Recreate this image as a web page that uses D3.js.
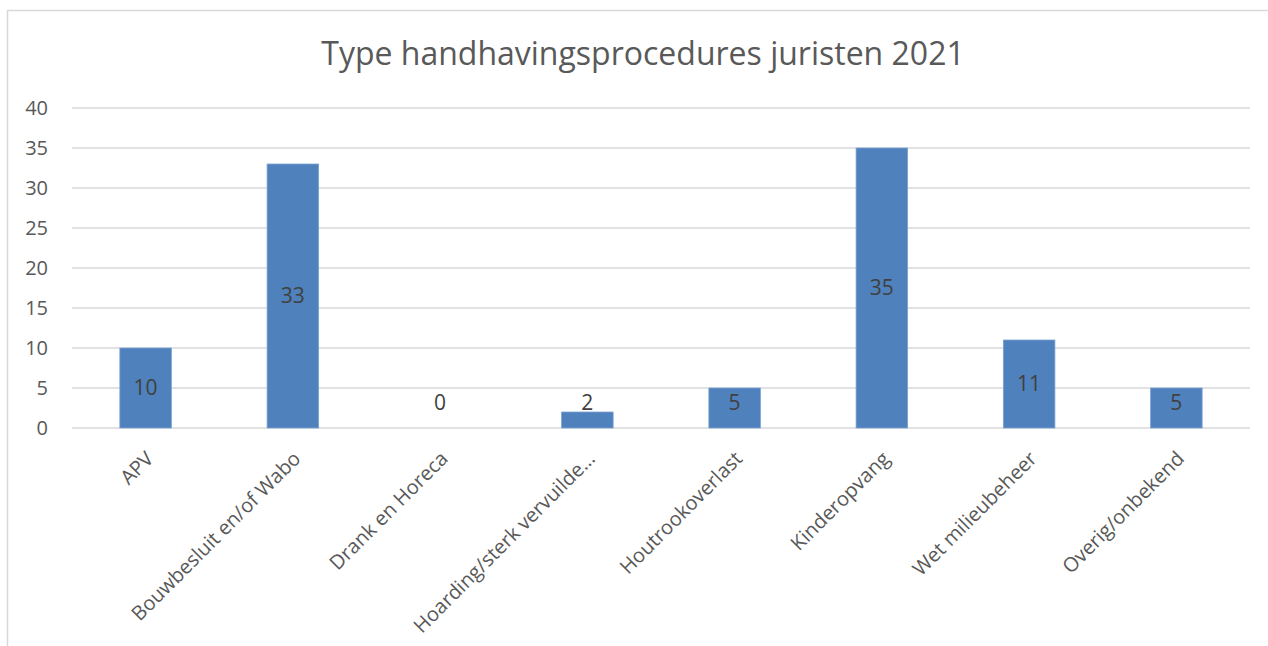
<!DOCTYPE html>
<html>
<head>
<meta charset="utf-8">
<script src="https://d3js.org/d3.v7.min.js"></script>
<style>
  body { margin: 0; background: #fff; }
  svg text { font-family: "Open Sans", sans-serif; }
</style>
</head>
<body>
<svg width="1268" height="646"></svg>

<script>
  // data
  const categories = ['APV', 'Bouwbesluit en/of Wabo', 'Drank en Horeca', 'Hoarding/sterk vervuilde…',
    'Houtrookoverlast', 'Kinderopvang', 'Wet milieubeheer', 'Overig/onbekend'];
  const values = [10, 33, 0, 2, 5, 35, 11, 5];
  const yTicks = [0, 5, 10, 15, 20, 25, 30, 35, 40];
  const title = 'Type handhavingsprocedures juristen 2021';

  const svg = d3.select('svg');
  const width = +svg.attr('width');
  const height = +svg.attr('height');

  const data = categories.map((c, i) => ({cat: c, val: values[i]}));

  // chart frame (cut off at right and bottom in the original)
  svg.append('rect')
    .attr('x', 7.5).attr('y', 10.5)
    .attr('width', width + 10).attr('height', height + 10)
    .attr('fill', '#fff')
    .attr('stroke', '#d9d9d9')
    .attr('stroke-width', 1.5);

  svg.append('text')
    .attr('x', 643).attr('y', 65)
    .attr('text-anchor', 'middle')
    .attr('font-size', 32)
    .attr('fill', '#595959')
    .text(title);

  const margin = {top: 108, left: 72, right: 18, bottom: 218};

  const x = d3.scaleBand()
    .domain(categories)
    .range([margin.left, width - margin.right])
    .paddingInner(0.65)
    .paddingOuter(0.325);

  const y = d3.scaleLinear()
    .domain([0, 40])
    .range([height - margin.bottom, margin.top]);

  // gridlines
  svg.append('g')
    .selectAll('line').data(yTicks)
    .join('line')
      .attr('x1', margin.left).attr('x2', width - margin.right)
      .attr('y1', d => y(d)).attr('y2', d => y(d))
      .attr('stroke', '#d9d9d9')
      .attr('stroke-width', 1.5);

  // y axis labels
  const yAxis = d3.axisLeft(y).tickValues(yTicks).tickSize(0).tickPadding(24);
  const gy = svg.append('g')
    .attr('transform', `translate(${margin.left},0)`)
    .call(yAxis);
  gy.select('.domain').remove();
  gy.selectAll('text')
    .attr('font-size', 20)
    .attr('fill', '#595959')
    .style('font-family', '"Open Sans", sans-serif');

  // bars
  svg.append('g')
    .selectAll('rect').data(data)
    .join('rect')
      .attr('x', d => x(d.cat))
      .attr('y', d => y(d.val))
      .attr('width', x.bandwidth())
      .attr('height', d => y(0) - y(d.val))
      .attr('fill', '#4f81bd')
      .attr('stroke', '#7da2d0')
      .attr('stroke-width', 0.8);

  // value labels, centred in bar but kept above the axis
  svg.append('g')
    .selectAll('text').data(data)
    .join('text')
      .attr('x', d => x(d.cat) + x.bandwidth() / 2)
      .attr('y', d => Math.min(y(d.val / 2), y(0) - 25))
      .attr('dy', '0.35em')
      .attr('text-anchor', 'middle')
      .attr('font-size', 21)
      .attr('fill', '#404040')
      .text(d => d.val);

  // rotated category labels
  const xAxis = d3.axisBottom(x).tickSize(0).tickPadding(0);
  const gx = svg.append('g')
    .attr('transform', `translate(0,${y(0)})`)
    .call(xAxis);
  gx.select('.domain').remove();
  gx.selectAll('text')
    .attr('font-size', 20)
    .attr('fill', '#595959')
    .style('font-family', '"Open Sans", sans-serif')
    .attr('text-anchor', 'end')
    .attr('dy', '0.35em')
    .attr('transform', 'translate(4,27) rotate(-45)');
</script>
</body>
</html>
